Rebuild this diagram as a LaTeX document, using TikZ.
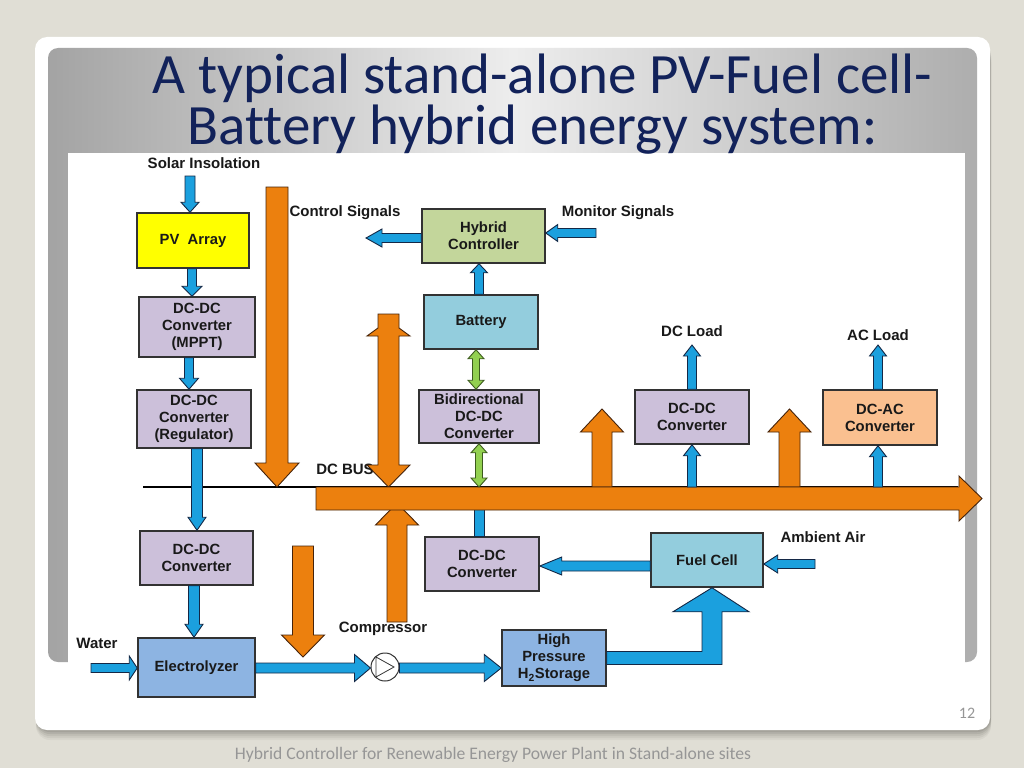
\documentclass[tikz,border=0pt]{standalone}
\usepackage{fontspec}
\setmainfont{Liberation Sans}
\newfontfamily\titlefont[Ligatures=NoCommon]{Carlito}
\usetikzlibrary{calc}
\definecolor{bgc}{RGB}{224,222,213}
\definecolor{titlec}{RGB}{18,34,90}
\definecolor{pvy}{RGB}{255,255,0}
\definecolor{lav}{RGB}{204,192,218}
\definecolor{hcg}{RGB}{195,214,155}
\definecolor{batc}{RGB}{147,205,221}
\definecolor{elc}{RGB}{141,180,226}
\definecolor{acc}{RGB}{250,192,144}
\definecolor{arrb}{RGB}{27,160,222}
\definecolor{arrbl}{RGB}{20,40,70}
\definecolor{orf}{RGB}{236,128,14}
\definecolor{orl}{RGB}{70,35,10}
\definecolor{grf}{RGB}{146,208,80}
\definecolor{grl}{RGB}{60,90,30}
\definecolor{boxl}{RGB}{50,50,50}
\definecolor{txt}{RGB}{25,25,25}
\definecolor{foot}{RGB}{150,150,150}
\tikzset{
  box/.style={draw=boxl, line width=1.5pt, align=center, text=txt,
    font=\bfseries\fontsize{14.8}{17}\selectfont, inner sep=0pt},
  lbl/.style={text=txt, font=\bfseries\fontsize{15}{17}\selectfont, inner sep=0pt},
  bluearr/.style={draw=arrbl, fill=arrb, line width=0.9pt, line join=miter},
  orarr/.style={draw=orl, fill=orf, line width=0.9pt},
  grarr/.style={draw=grl, fill=grf, line width=0.9pt},
  blk/.style n args={3}{to path={
    ($(\tikztostart)!#1!90:(\tikztotarget)$)
    -- ($($(\tikztotarget)!#3!(\tikztostart)$)!#1!-90:(\tikztostart)$)
    -- ($($(\tikztotarget)!#3!(\tikztostart)$)!#2!-90:(\tikztostart)$)
    -- (\tikztotarget)
    -- ($($(\tikztotarget)!#3!(\tikztostart)$)!#2!90:(\tikztostart)$)
    -- ($($(\tikztotarget)!#3!(\tikztostart)$)!#1!90:(\tikztostart)$)
    -- ($(\tikztostart)!#1!-90:(\tikztotarget)$) -- cycle}},
  blkk/.style n args={3}{to path={
    (\tikztostart)
    -- ($($(\tikztostart)!#3!(\tikztotarget)$)!#2!90:(\tikztotarget)$)
    -- ($($(\tikztostart)!#3!(\tikztotarget)$)!#1!90:(\tikztotarget)$)
    -- ($($(\tikztotarget)!#3!(\tikztostart)$)!#1!-90:(\tikztostart)$)
    -- ($($(\tikztotarget)!#3!(\tikztostart)$)!#2!-90:(\tikztostart)$)
    -- (\tikztotarget)
    -- ($($(\tikztotarget)!#3!(\tikztostart)$)!#2!90:(\tikztostart)$)
    -- ($($(\tikztotarget)!#3!(\tikztostart)$)!#1!90:(\tikztostart)$)
    -- ($($(\tikztostart)!#3!(\tikztotarget)$)!#1!-90:(\tikztotarget)$)
    -- ($($(\tikztostart)!#3!(\tikztotarget)$)!#2!-90:(\tikztotarget)$)
    -- cycle}},
}
\begin{document}
\begin{tikzpicture}[x=1pt,y=-1pt]
\useasboundingbox (0,0) rectangle (1024,768);
% slide background
\fill[bgc] (0,0) rectangle (1024,768);
\foreach \s/\o in {10/0.04,8/0.05,6/0.06,4/0.07,2/0.08}
  \fill[black, opacity=\o, rounded corners=14pt] (36,{40+\s}) rectangle (991,{730+\s});
\fill[white, rounded corners=12pt] (35,37) rectangle (990,730);
\shade[left color=black!36, right color=black!32, middle color=black!7, rounded corners=10pt]
  (48,48) rectangle (977,662);
\fill[white] (68,153) rectangle (965,705);
% title
\node[anchor=base, text=titlec, inner sep=0pt, align=center,
  font=\titlefont\fontsize{57}{51}\selectfont] (title) at (542.5,144)
  {A typical stand-alone PV-Fuel cell-\\Battery hybrid energy system:\hspace*{20pt}};
% footer
\node[text=foot, inner sep=0pt, font=\titlefont\fontsize{16}{18}\selectfont] (pg) at (967,713) {12};
\node[text=foot, inner sep=0pt, font=\titlefont\fontsize{17.6}{20}\selectfont] (ft) at (493,755) {Hybrid Controller for Renewable Energy Power Plant in Stand-alone sites};

% boxes
\node[box, fill=pvy, minimum width=112pt, minimum height=55pt] (pv) at (193,240.5) {PV\ \ Array};
\node[box, fill=lav, minimum width=116pt, minimum height=60pt] (mppt) at (197,327) {DC-DC\\Converter\\(MPPT)};
\node[box, fill=lav, minimum width=114pt, minimum height=58pt] (reg) at (194,419) {DC-DC\\Converter\\(Regulator)};
\node[box, fill=lav, minimum width=113pt, minimum height=54pt] (dc1) at (196.5,558) {DC-DC\\Converter};
\node[box, fill=elc, minimum width=117pt, minimum height=59pt] (elec) at (196.5,667.5) {Electrolyzer};
\node[box, fill=elc, minimum width=104pt, minimum height=56pt] (stor) at (554,658) {High\\Pressure\\H\textsubscript{2}Storage};
\node[box, fill=batc, minimum width=112pt, minimum height=54pt] (fc) at (707,560) {Fuel Cell};
\node[box, fill=lav, minimum width=114pt, minimum height=54pt] (dc2) at (482,564) {DC-DC\\Converter};
\node[box, fill=hcg, minimum width=123pt, minimum height=54pt] (hc) at (483.5,236) {Hybrid\\Controller};
\node[box, fill=batc, minimum width=114pt, minimum height=54pt] (bat) at (481,322) {Battery};
\node[box, fill=lav, minimum width=120pt, minimum height=53pt] (bid) at (479,416.5) {Bidirectional\\DC-DC\\Converter};
\node[box, fill=lav, minimum width=114pt, minimum height=54pt] (dc3) at (692,417) {DC-DC\\Converter};
\node[box, fill=acc, minimum width=114pt, minimum height=55pt] (dcac) at (880,417.5) {DC-AC\\Converter};
\node[draw=black!80, circle, minimum size=28pt, inner sep=0pt, line width=1pt, fill=white] (comp) at (385,667) {};
\draw[black!80, line width=0.8pt, line join=miter] ($(comp)+(-9,-10)$) -- ($(comp)+(9,0)$) -- ($(comp)+(-9,10)$) -- cycle;

% labels
\node[lbl] (solar) at (204,163) {Solar Insolation};
\node[lbl] (ctrl) at (345,213) {Control Signals};
\node[lbl] (mon) at (618,213) {Monitor Signals};
\node[lbl] (dcl) at (692,331) {DC Load};
\node[lbl] (acl) at (878,335) {AC Load};
\node[lbl] (dcbus) at (345,469) {DC BUS};
\node[lbl] (amb) at (823,537) {Ambient Air};
\node[lbl] (water) at (97,643) {Water};
\node[lbl] (compl) at (383,629) {Compressor};

% helper coordinates
\coordinate (bustop) at (0,487);
\coordinate (busbot) at (0,506);
\coordinate (xs) at (190,0);
\coordinate (xp) at (192,0);
\coordinate (xm) at (189,0);
\coordinate (xr) at (197,0);
\coordinate (xd) at (194,0);
\coordinate (x476) at (476,0);
\coordinate (x479) at (479,0);
\coordinate (x692) at (692,0);
\coordinate (x878) at (878,0);
\coordinate (yel) at (0,668);
\coordinate (yfc) at (0,566);
\coordinate (ycs) at (0,238);
\coordinate (wst) at (91,668);
\coordinate (amb0) at (815,564);
\coordinate (ms0) at (596,233);
\coordinate (cs1) at (366,238);
\coordinate (dcltip) at (692,345);
\coordinate (acltip) at (878,345);
\coordinate (soltop) at (190,176);

% DC bus line
\draw[black, line width=1.6pt] (143,487) -- (958,487);

% orange power arrows
\coordinate (oa1) at (277,187); \coordinate (oa2) at (277,487);
\draw[orarr, blk={11pt}{22pt}{24pt}] (oa1) to (oa2);
\coordinate (oc1) at (303,546); \coordinate (oc2) at (303,657);
\draw[orarr, blk={10.5pt}{21.5pt}{22pt}] (oc1) to (oc2);
\coordinate (od1) at (397,622); \coordinate (od2) at (397,503);
\draw[orarr, blk={10pt}{21.5pt}{22pt}] (od1) to (od2);
\coordinate (oe1) at (602,487); \coordinate (oe2) at (602,409);
\draw[orarr, blk={10pt}{21.5pt}{23pt}] (oe1) to (oe2);
\coordinate (of1) at (789.5,487); \coordinate (of2) at (789.5,409);
\draw[orarr, blk={10.5pt}{21.5pt}{23pt}] (of1) to (of2);
\coordinate (bt) at (388.5,314); \coordinate (bb) at (388.5,487);
\draw[orarr] ($(bt)+(-10.5,0)$) -- ($(bt)+(10.5,0)$) -- ($(bt)+(10.5,14)$) -- ($(bt)+(21.5,22)$)
  -- ($(bt)+(10.5,22)$) -- ($(bb)+(10.5,-22)$) -- ($(bb)+(21.5,-22)$) -- (bb)
  -- ($(bb)+(-21.5,-22)$) -- ($(bb)+(-10.5,-22)$) -- ($(bt)+(-10.5,22)$) -- ($(bt)+(-21.5,22)$)
  -- ($(bt)+(-10.5,14)$) -- cycle;

% blue link from lower DC-DC converter into the bus
\draw[bluearr] ($(x479 |- dc2.north)+(-5,0)$) rectangle ($(x479 |- busbot)+(5,0)$);

% DC bus
\coordinate (bus0) at (316,498.5); \coordinate (bus1) at (982,498.5);
\draw[orarr, blk={11.5pt}{22.5pt}{23pt}] (bus0) to (bus1);

% blue arrows
\draw[bluearr, blk={5pt}{9pt}{10pt}] (soltop) to (xs |- pv.north);
\draw[bluearr, blk={4.5pt}{10pt}{10pt}] (xp |- pv.south) to (xp |- mppt.north);
\draw[bluearr, blk={4.5pt}{9.5pt}{11pt}] (xm |- mppt.south) to (xm |- reg.north);
\draw[bluearr, blk={5.5pt}{9pt}{13pt}] (xr |- reg.south) to (xr |- dc1.north);
\draw[bluearr, blk={5.5pt}{9pt}{13pt}] (xd |- dc1.south) to (xd |- elec.north);
\draw[bluearr, blk={4.5pt}{12pt}{8pt}] (wst) to (wst -| elec.west);
\draw[bluearr, blk={5pt}{13.5pt}{16pt}] (yel -| elec.east) to (yel -| comp.west);
\draw[bluearr, blk={5pt}{13.5pt}{17pt}] (yel -| comp.east) to (yel -| stor.west);
\draw[bluearr, blk={5pt}{9pt}{22pt}] (yfc -| fc.west) to (yfc -| dc2.east);
\draw[bluearr, blk={4.5pt}{9pt}{14pt}] (amb0) to (amb0 -| fc.east);
\draw[bluearr, blk={4.5pt}{8.5pt}{9pt}] (x479 |- bat.north) to (x479 |- hc.south);
\draw[bluearr, blk={4.5pt}{9pt}{16pt}] (ycs -| hc.west) to (cs1);
\draw[bluearr, blk={4.5pt}{8.5pt}{12pt}] (ms0) to (ms0 -| hc.east);
\draw[bluearr, blk={4.5pt}{8.5pt}{11pt}] (x692 |- bustop) to (x692 |- dc3.south);
\draw[bluearr, blk={4.5pt}{8.5pt}{11pt}] (x692 |- dc3.north) to (dcltip);
\draw[bluearr, blk={4.5pt}{8.5pt}{11pt}] (x878 |- bustop) to (x878 |- dcac.south);
\draw[bluearr, blk={4.5pt}{8.5pt}{11pt}] (x878 |- dcac.north) to (acltip);
% hydrogen to fuel cell
\coordinate (fct) at ($(fc.south)+(5,0)$);
\draw[bluearr] ($(stor.east)+(0,-6.5)$) -| ($(fct)+(-10,24)$) -- ($(fct)+(-39,24)$) -- (fct)
  -- ($(fct)+(37,24)$) -- ($(fct)+(10,24)$) |- ($(stor.east)+(0,6.5)$) -- cycle;
% green bidirectional arrows
\draw[grarr, blkk={3.5pt}{8pt}{9pt}] (x476 |- bat.south) to (x476 |- bid.north);
\draw[grarr, blkk={3.5pt}{8pt}{9pt}] (x479 |- bid.south) to (x479 |- bustop);
\end{tikzpicture}
\end{document}
